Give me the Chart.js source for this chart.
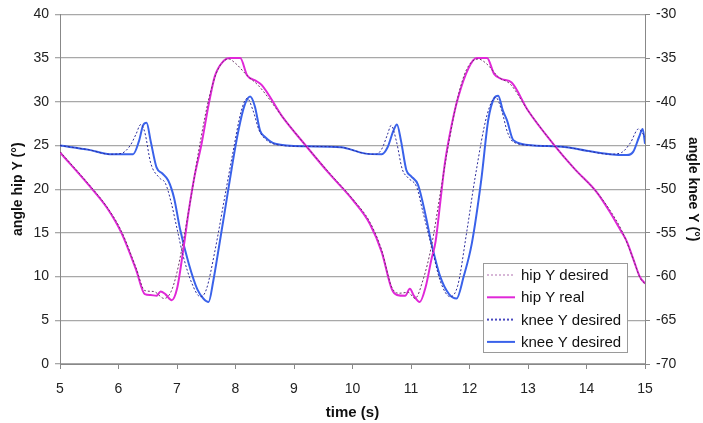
<!DOCTYPE html>
<html>
<head>
<meta charset="utf-8">
<script src="https://cdn.jsdelivr.net/npm/chart.js@4/dist/chart.umd.min.js"></script>
<style>
  html, body { margin: 0; padding: 0; background: #fff; }
  #wrap { width: 703px; height: 423px; position: relative; }
</style>
</head>
<body>
<div id="wrap"><canvas id="myChart" width="703" height="423"></canvas></div>
<script>
// time (s) and angles
let hipDesiredT = [5.0, 5.5, 5.8, 6.05, 6.3, 6.45, 6.6, 6.78, 6.9, 7.0, 7.1, 7.25, 7.4, 7.55, 7.7, 7.88, 8.0, 8.2, 8.4, 8.8, 9.2, 9.6, 10.0, 10.3, 10.5, 10.67, 10.8, 10.95, 11.07, 11.2, 11.35, 11.5, 11.65, 11.8, 11.95, 12.15, 12.3, 12.5, 12.7, 13.0, 13.43, 13.8, 14.17, 14.4, 14.6, 14.8, 14.92, 15.0];
let hipDesired = [24.3, 20.5, 18.0, 15.2, 11.0, 8.4, 8.3, 7.5, 8.3, 10.5, 13.8, 19.5, 25.5, 30.5, 33.7, 34.9, 34.4, 33.0, 31.8, 28.3, 25.0, 21.9, 18.9, 16.2, 13.0, 8.8, 8.1, 8.2, 7.5, 9.5, 13.5, 19.5, 25.5, 30.5, 33.7, 34.9, 34.3, 32.8, 32.0, 29.0, 25.2, 22.3, 19.7, 17.6, 15.3, 12.0, 9.8, 9.2];

let hipRealT = [5.0, 5.5, 5.8, 6.05, 6.3, 6.45, 6.55, 6.65, 6.72, 6.8, 6.91, 7.0, 7.11, 7.2, 7.3, 7.42, 7.55, 7.65, 7.8, 7.9, 8.08, 8.2, 8.35, 8.45, 8.8, 9.2, 9.6, 10.0, 10.3, 10.5, 10.67, 10.76, 10.9, 10.98, 11.05, 11.15, 11.25, 11.35, 11.42, 11.5, 11.58, 11.7, 11.81, 11.98, 12.12, 12.3, 12.42, 12.55, 12.72, 13.0, 13.43, 13.8, 14.17, 14.4, 14.6, 14.69, 14.8, 14.91, 15.0];
let hipReal = [24.2, 20.4, 17.9, 15.0, 10.8, 8.0, 7.9, 7.8, 8.3, 8.0, 7.3, 8.6, 13.2, 17.5, 21.5, 25.2, 30.0, 33.0, 34.7, 35.0, 35.0, 33.0, 32.4, 31.9, 28.3, 25.0, 21.8, 18.8, 16.0, 12.8, 8.6, 7.9, 7.8, 8.6, 7.8, 7.1, 8.8, 12.0, 14.0, 18.5, 23.0, 27.5, 30.6, 33.8, 35.0, 35.0, 33.2, 32.6, 32.2, 29.0, 25.2, 22.3, 19.7, 17.4, 15.1, 14.0, 12.0, 10.0, 9.2];

let kneeDesiredT = [5.0, 5.5, 5.85, 6.05, 6.2, 6.3, 6.38, 6.45, 6.55, 6.7, 6.8, 6.9, 7.0, 7.1, 7.25, 7.4, 7.5, 7.65, 7.8, 7.95, 8.1, 8.2, 8.3, 8.4, 8.5, 8.7, 9.2, 9.8, 10.2, 10.4, 10.5, 10.6, 10.66, 10.75, 10.85, 10.95, 11.1, 11.2, 11.35, 11.5, 11.67, 11.8, 11.95, 12.1, 12.3, 12.45, 12.55, 12.65, 12.75, 13.1, 13.66, 14.0, 14.4, 14.6, 14.75, 14.89, 15.0];
let kneeDesired = [-45.0, -45.5, -46.0, -45.9, -45.0, -43.7, -42.6, -43.5, -47.0, -48.7, -49.3, -51.5, -54.5, -57.5, -60.7, -62.3, -61.5, -57.0, -51.5, -46.0, -41.0, -39.6, -41.0, -43.2, -44.2, -44.9, -45.1, -45.2, -45.9, -46.0, -45.4, -43.7, -42.7, -44.5, -47.7, -48.7, -49.8, -52.5, -56.5, -60.5, -62.3, -61.0, -55.0, -48.5, -41.5, -39.5, -41.0, -43.5, -44.6, -45.0, -45.2, -45.6, -46.0, -45.8, -44.7, -43.1, -44.0];

let kneeRealT = [5.0, 5.5, 5.85, 6.25, 6.35, 6.42, 6.48, 6.55, 6.65, 6.75, 6.85, 6.95, 7.05, 7.2, 7.35, 7.45, 7.54, 7.62, 7.72, 7.82, 7.95, 8.05, 8.15, 8.25, 8.33, 8.42, 8.5, 8.68, 9.2, 9.8, 10.2, 10.5, 10.6, 10.7, 10.76, 10.83, 10.92, 11.0, 11.12, 11.25, 11.35, 11.5, 11.65, 11.78, 11.9, 12.04, 12.2, 12.32, 12.42, 12.49, 12.57, 12.64, 12.75, 13.1, 13.66, 14.0, 14.4, 14.69, 14.8, 14.9, 14.96, 15.0];
let kneeReal = [-45.0, -45.5, -46.0, -46.0, -44.5, -42.7, -42.4, -44.5, -47.5, -48.2, -49.0, -51.0, -54.5, -58.5, -61.5, -62.5, -62.9, -60.5, -56.5, -52.4, -47.0, -43.3, -40.5, -39.4, -40.5, -43.3, -44.0, -44.8, -45.1, -45.2, -45.9, -46.0, -45.2, -43.3, -42.6, -44.5, -47.8, -48.5, -49.5, -53.0, -56.2, -60.0, -62.0, -62.5, -60.0, -56.2, -49.0, -42.1, -39.6, -39.3, -41.0, -42.1, -44.4, -45.0, -45.2, -45.6, -46.0, -46.1, -45.7, -44.0, -43.1, -44.8];

let xTicks = [5, 6, 7, 8, 9, 10, 11, 12, 13, 14, 15];
let seriesNames = ["hip Y desired", "hip Y real", "knee Y desired", "knee Y desired"];

function pts(t, v) {
  return t.map((x, i) => ({ x: x, y: v[i] }));
}

const font = "Liberation Sans, Arial, sans-serif";

// legend drawn inside the plot, bottom right
const boxLegend = {
  id: "boxLegend",
  afterDraw(chart) {
    const ctx = chart.ctx;
    const x0 = 483, y0 = 263, w = 144, h = 89;
    ctx.save();
    ctx.fillStyle = "#fff";
    ctx.fillRect(x0, y0, w, h);
    ctx.strokeStyle = "#9a9a9a";
    ctx.lineWidth = 1;
    ctx.strokeRect(x0 + 0.5, y0 + 0.5, w, h);
    ctx.font = "15px " + font;
    ctx.textBaseline = "middle";
    chart.data.datasets.forEach((ds, i) => {
      const y = y0 + 12 + i * 22.3;
      ctx.beginPath();
      ctx.strokeStyle = ds.legendColor || ds.borderColor;
      ctx.lineWidth = ds.legendWidth || ds.borderWidth;
      ctx.setLineDash(ds.borderDash || []);
      ctx.moveTo(x0 + 4, y);
      ctx.lineTo(x0 + 32, y);
      ctx.stroke();
      ctx.setLineDash([]);
      ctx.fillStyle = "#111";
      ctx.fillText(ds.label, x0 + 38, y + 1);
    });
    ctx.restore();
  },
};

new Chart(document.getElementById("myChart"), {
  type: "line",
  data: {
    datasets: [
      {
        label: seriesNames[0],
        data: pts(hipDesiredT, hipDesired),
        borderColor: "#6a3566",
        legendColor: "#b070b0",
        borderWidth: 1,
        borderDash: [2, 2],
        yAxisID: "y",
        order: 1,
      },
      {
        label: seriesNames[1],
        data: pts(hipRealT, hipReal),
        borderColor: "#e028d8",
        borderWidth: 2,
        yAxisID: "y",
        order: 2,
      },
      {
        label: seriesNames[2],
        data: pts(kneeDesiredT, kneeDesired),
        borderColor: "#2a2a9a",
        legendColor: "#4a4ac0",
        legendWidth: 2,
        borderWidth: 1,
        borderDash: [2, 2],
        yAxisID: "y1",
        order: 1,
      },
      {
        label: seriesNames[3],
        data: pts(kneeRealT, kneeReal),
        borderColor: "#3a62ea",
        borderWidth: 2,
        yAxisID: "y1",
        order: 2,
      },
    ],
  },
  options: {
    responsive: false,
    animation: false,
    layout: { padding: { top: 14, left: 6, right: 0, bottom: 0 } },
    elements: {
      point: { radius: 0 },
      line: { tension: 0.3, cubicInterpolationMode: "monotone" },
    },
    plugins: {
      legend: { display: false },
      tooltip: { enabled: false },
    },
    scales: {
      x: {
        type: "linear",
        min: 5,
        max: 15,
        afterBuildTicks: (s) => { s.ticks = xTicks.map((v) => ({ value: v })); },
        afterFit: (s) => { s.height = 59; },
        grid: { drawOnChartArea: false, color: "#888", tickLength: 5 },
        border: { color: "#888" },
        ticks: { color: "#222", font: { family: font, size: 14 }, padding: 12 },
        title: {
          display: true,
          text: "time (s)",
          color: "#111",
          font: { family: font, size: 15, weight: "bold" },
          padding: { top: 2, bottom: 1 },
        },
      },
      y: {
        position: "left",
        min: 0,
        max: 40,
        afterFit: (s) => { s.width = 54; },
        ticks: { stepSize: 5, color: "#222", font: { family: font, size: 14 }, padding: 6 },
        grid: { color: "#a8a8a8", lineWidth: 1.3, tickLength: 5 },
        border: { color: "#888" },
        title: {
          display: true,
          text: "angle hip Y (°)",
          color: "#111",
          font: { family: font, size: 14, weight: "bold" },
          padding: { bottom: 2 },
        },
      },
      y1: {
        position: "right",
        min: -70,
        max: -30,
        afterFit: (s) => { s.width = 58; },
        ticks: { stepSize: 5, color: "#222", font: { family: font, size: 14 }, padding: 6 },
        grid: { drawOnChartArea: false, color: "#888", tickLength: 5 },
        border: { color: "#888" },
        title: {
          display: true,
          text: "angle knee Y (°)",
          color: "#111",
          font: { family: font, size: 14, weight: "bold" },
          padding: { top: 2 },
        },
      },
    },
  },
  plugins: [boxLegend],
});
</script>
</body>
</html>
